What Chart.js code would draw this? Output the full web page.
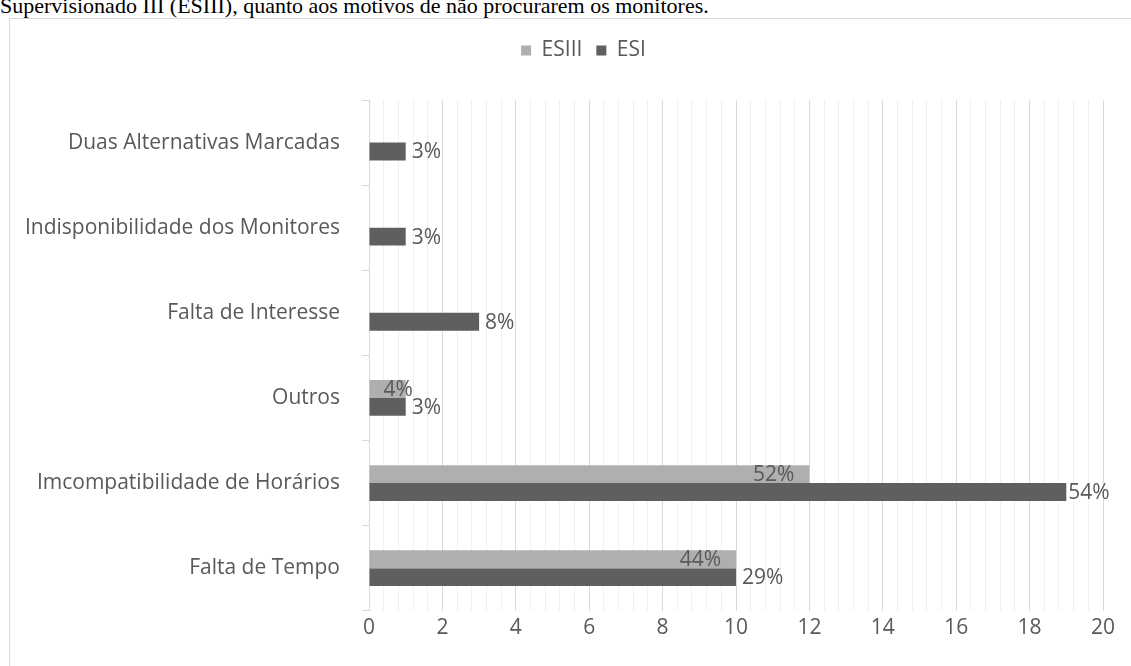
<!DOCTYPE html>
<html>
<head>
<meta charset="utf-8">
<script src="https://cdn.jsdelivr.net/npm/chart.js@4/dist/chart.umd.min.js"></script>
<style>
  html, body { margin: 0; padding: 0; background: #fff; width: 1131px; height: 666px; overflow: hidden; }
  #caption { position: absolute; left: 0; top: -7px; font-family: "Liberation Serif", serif; font-size: 22px; color: #000; white-space: nowrap; }
  #frame { position: absolute; left: 9px; top: 18px; width: 1140px; height: 700px; border: 1px solid #d9d9d9; box-sizing: border-box; }
  #wrap { position: absolute; left: 0; top: 0; width: 1131px; height: 666px; }
</style>
</head>
<body>
<div id="caption">Supervisionado III (ESIII), quanto aos motivos de não procurarem os monitores.</div>
<div id="frame"></div>
<div id="wrap"><canvas id="c" width="1131" height="666"></canvas></div>
<script>
const categories = [
  "Duas Alternativas Marcadas",
  "Indisponibilidade dos Monitores",
  "Falta de Interesse",
  "Outros",
  "Imcompatibilidade de Horários",
  "Falta de Tempo"
];
const seriesNames = ["ESIII", "ESI"];
const esiiiValues = [null, null, null, 1, 12, 10];
const esiValues = [1, 1, 3, 1, 19, 10];
const esiiiLabels = [null, null, null, "4%", "52%", "44%"];
const esiLabels = ["3%", "3%", "8%", "3%", "54%", "29%"];
const xTickLabels = ["0", "2", "4", "6", "8", "10", "12", "14", "16", "18", "20"];

const FONT = "'Open Sans', sans-serif";
const TXT = "#595959";
const FS = 21;

const legendGrow = {
  id: 'legendGrow',
  afterInit(chart) {
    const lg = chart.legend;
    if (lg && !lg._grown) {
      const orig = lg.fit;
      lg.fit = function () { orig.call(this); this.height += 29; };
      lg._grown = true;
    }
  },
  afterLayout(chart) {
    const lg = chart.legend;
    if (lg) { lg.left += 32; lg.right += 32; }
  }
};

const valueLabels = {
  id: 'valueLabels',
  afterDatasetsDraw(chart) {
    const ctx = chart.ctx;
    ctx.save();
    ctx.font = FS + "px " + FONT;
    ctx.fillStyle = TXT;
    ctx.textBaseline = 'middle';
    ctx.textAlign = 'left';
    const ca = chart.chartArea;
    const m0 = chart.getDatasetMeta(0);
    const m1 = chart.getDatasetMeta(1);
    m0.data.forEach((bar, i) => {
      const t = esiiiLabels[i];
      if (!t || esiiiValues[i] == null) return;
      const w = ctx.measureText(t).width;
      let left = bar.x - 15 - w;
      if (left < bar.base + 14) left = bar.base + 14;
      ctx.fillText(t, left, bar.y + 1);
    });
    m1.data.forEach((bar, i) => {
      const t = esiLabels[i];
      if (!t) return;
      const w = ctx.measureText(t).width;
      let left = bar.x + 6;
      if (left + w > ca.right + 8) left = bar.x + 2;
      ctx.fillText(t, left, bar.y + 1);
    });
    ctx.restore();
  }
};

function isMajor(v) { return Math.abs(v / 2 - Math.round(v / 2)) < 1e-6; }

new Chart(document.getElementById('c'), {
  type: 'bar',
  data: {
    labels: categories,
    datasets: [
      { label: seriesNames[0], data: esiiiValues, backgroundColor: '#afafaf', borderWidth: 0 },
      { label: seriesNames[1], data: esiValues, backgroundColor: '#5f5f5f', borderWidth: 0 }
    ]
  },
  options: {
    indexAxis: 'y',
    responsive: false,
    animation: false,
    events: [],
    categoryPercentage: 0.42,
    barPercentage: 1.0,
    layout: { padding: { top: 26, right: 28, bottom: 20, left: 0 } },
    plugins: {
      legend: {
        display: true,
        position: 'top',
        align: 'center',
        labels: {
          boxWidth: 10, boxHeight: 10, padding: 14,
          color: TXT,
          font: { family: FONT, size: FS }
        }
      },
      tooltip: { enabled: false }
    },
    scales: {
      x: {
        type: 'linear',
        min: 0, max: 20,
        ticks: {
          stepSize: 0.4,
          autoSkip: false,
          maxRotation: 0,
          color: TXT,
          padding: 5,
          font: { family: FONT, size: FS },
          callback: function (v) {
            if (!isMajor(v)) return '';
            const idx = Math.round(v / 2);
            return xTickLabels[idx];
          }
        },
        grid: {
          drawTicks: false,
          color: (c) => (c.tick && isMajor(c.tick.value)) ? '#d9d9d9' : '#f0f0f0',
          lineWidth: 1
        },
        border: { display: false }
      },
      y: {
        type: 'category',
        offset: true,
        ticks: {
          color: TXT,
          padding: 22,
          font: { family: FONT, size: FS }
        },
        grid: {
          offset: true,
          drawOnChartArea: false,
          drawTicks: true,
          tickLength: 7,
          color: '#d9d9d9'
        },
        border: { display: true, color: '#d9d9d9' },
        afterFit: function (s) { s.width = 369; }
      }
    }
  },
  plugins: [legendGrow, valueLabels]
});
</script>
</body>
</html>
